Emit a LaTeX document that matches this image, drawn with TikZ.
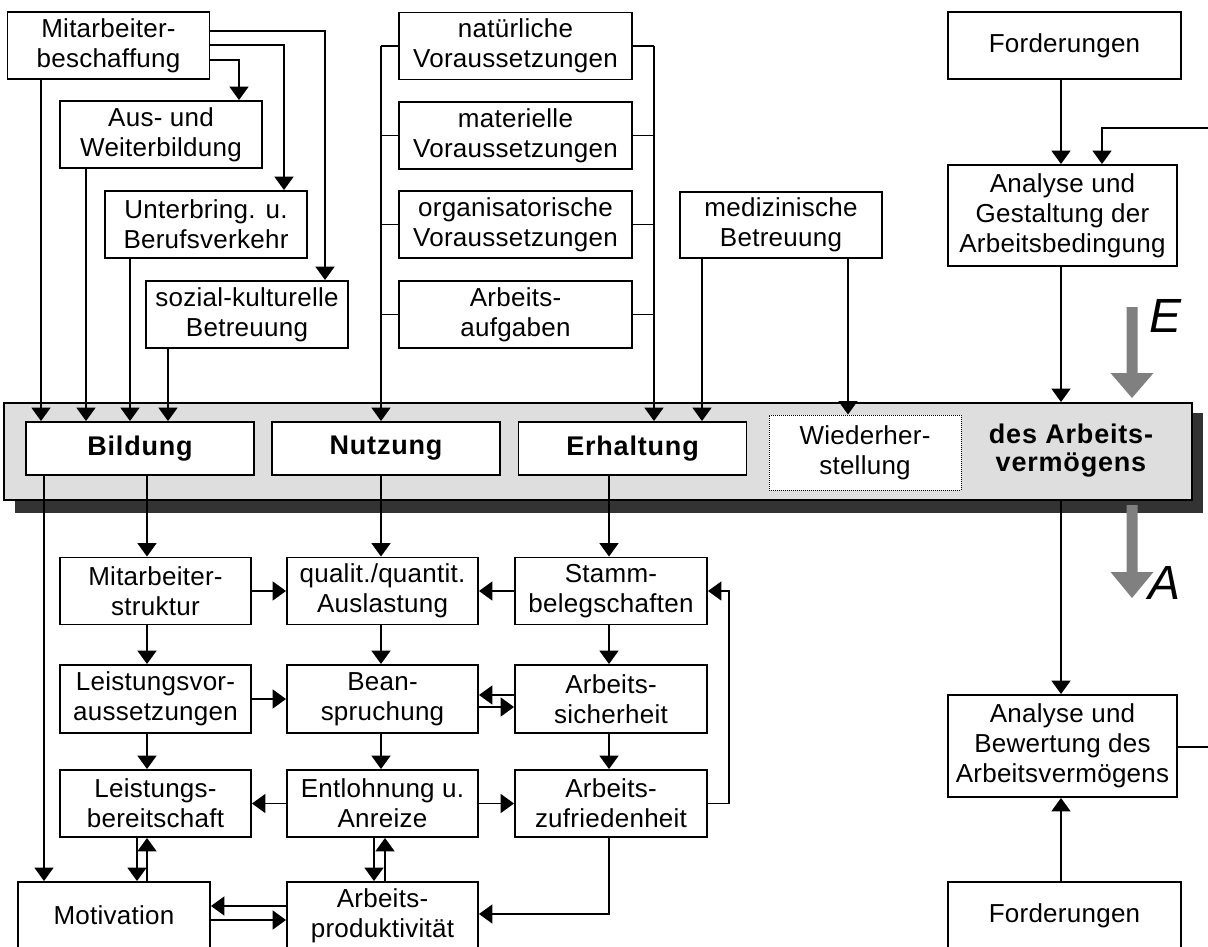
\documentclass[tikz,border=0pt]{standalone}
\usepackage{fontspec}
\setmainfont{Liberation Sans}[LetterSpace=1]
\newfontfamily\bandfont{Liberation Sans}[LetterSpace=3]
\newfontfamily\lblfont{Liberation Sans}
\usetikzlibrary{arrows.meta,calc}
\definecolor{bandgray}{HTML}{DEDEDE}
\definecolor{shadowgray}{HTML}{333333}
\definecolor{arrowgray}{HTML}{808080}
\begin{document}
\begin{tikzpicture}[x=1pt,y=-1pt,
  every node/.style={font=\fontsize{26}{30}\selectfont},
  box/.style={draw, line width=1.9pt, fill=white, align=center, inner sep=0pt},
  bA/.style={box, minimum width=202pt, minimum height=67pt},
  bB/.style={box, minimum width=233pt, minimum height=67pt},
  bC/.style={box, minimum width=229pt, minimum height=101pt},
  bG/.style={box, minimum width=191pt, minimum height=67pt},
  bandbox/.style={box, font=\fontsize{27}{28}\bandfont\bfseries, minimum width=228pt, minimum height=53pt},
  conn/.style={line width=1.9pt},
  arr/.style={conn, -{Triangle[width=19pt,length=13.5pt]}},
  bigarrow/.style={fill=arrowgray, draw=none},
  biglabel/.style={font=\fontsize{48}{50}\lblfont\itshape, inner sep=0pt}
]
\useasboundingbox (0,0) rectangle (1208,947);
\clip (0,0) rectangle (1208,947);

% band with shadow
\fill[shadowgray] (15,413) rectangle (1203,513);
\node[draw, line width=1.9pt, fill=bandgray, inner sep=0pt, minimum width=1188pt, minimum height=97pt] (band) at (598,451.5) {};

\node[bandbox] (bild) at (140,448.5) {Bildung};
\node[bandbox] (nutz) at (386,448.5) {Nutzung};
\node[bandbox] (erh) at (632.5,448.5) {Erhaltung};
\node[box, line width=1pt, dash pattern=on 1pt off 1pt, minimum width=192pt, minimum height=75pt] (wied) at (865,452.5) {Wiederher-\\stellung};
\node[align=center, inner sep=0pt, font=\fontsize{27}{28}\bandfont\bfseries] (desav) at (1071,451) {des Arbeits-\\vermögens};

% top-left group
\node[bA] (mb) at (108.5,45.5) {Mitarbeiter-\\beschaffung};
\node[bA] (aw) at (161,134.5) {Aus- und\\Weiterbildung};
\node[bA] (ub) at (206,224.5) {Unterbring. u.\\Berufsverkehr};
\node[bA] (sk) at (247,314.5) {sozial-kulturelle\\Betreuung};

% middle group
\node[bB] (nv) at (515.5,46) {natürliche\\Voraussetzungen};
\node[bB] (mv) at (515.5,135.5) {materielle\\Voraussetzungen};
\node[bB] (ov) at (515.5,224.5) {organisatorische\\Voraussetzungen};
\node[bB] (aa) at (515.5,314.5) {Arbeits-\\aufgaben};
\node[bA, minimum height=66pt] (med) at (781,225) {medizinische\\Betreuung};

% right column
\node[bB] (ford1) at (1064.5,45.5) {Forderungen};
\node[bC] (agA) at (1062.5,215.5) {Analyse und\\Gestaltung der\\Arbeitsbedingung};
\node[bC, minimum height=102pt] (abA) at (1062.5,746) {Analyse und\\Bewertung des\\Arbeitsvermögens};
\node[bB] (ford2) at (1064.5,915.5) {Forderungen};

% bottom grid
\node[bG] (ms) at (155.5,591) {Mitarbeiter-\\struktur};
\node[bG] (qa) at (382.5,591) {qualit./quantit.\\Auslastung};
\node[bG, minimum width=192pt] (st) at (611,591) {Stamm-\\belegschaften};
\node[bG, minimum height=68pt] (lv) at (155.5,699) {Leistungsvor-\\aussetzungen};
\node[bG, minimum height=68pt] (be) at (382.5,699) {Bean-\\spruchung};
\node[bG, minimum width=192pt, minimum height=68pt] (asi) at (611,699) {Arbeits-\\sicherheit};
\node[bG] (lb) at (155.5,803.5) {Leistungs-\\bereitschaft};
\node[bG] (ea) at (382.5,803.5) {Entlohnung u.\\Anreize};
\node[bG, minimum width=192pt] (az) at (611,803.5) {Arbeits-\\zufriedenheit};
\node[bG, minimum width=192pt] (mot) at (114,915.5) {Motivation};
\node[bG] (ap) at (382.5,915.5) {Arbeits-\\produktivität};

% big gray arrows E and A
\fill[bigarrow] (1126.5,307) -- (1137.5,307) -- (1137.5,373) -- (1153.5,373) -- (1132,398) -- (1110.5,373) -- (1126.5,373) -- cycle;
\node[biglabel] (lE) at (1165,316) {E};
\fill[bigarrow] (1126.5,505) -- (1137.5,505) -- (1137.5,572) -- (1153.5,572) -- (1132,598) -- (1110.5,572) -- (1126.5,572) -- cycle;
\node[biglabel] (lA) at (1164,583) {A};

% connectors top-left
\draw[arr] (mb.east |- 0,31) -| (sk.north -| 325,0);
\draw[arr] (mb.east |- 0,45) -| (ub.north -| 284,0);
\draw[arr] (mb.east |- 0,60) -| (aw.north -| 239,0);
\draw[arr] (mb.south -| 41,0) -- (bild.north -| 41,0);
\draw[arr] (aw.south -| 86,0) -- (bild.north -| 86,0);
\draw[arr] (ub.south -| 130,0) -- (bild.north -| 130,0);
\draw[arr] (sk.south -| 168,0) -- (bild.north -| 168,0);

% middle bracket
\foreach \n in {nv,mv,ov,aa}{
  \draw[conn] (\n.west) -- (\n.west -| 381,0);
  \draw[conn] (\n.east) -- (\n.east -| 654,0);
}
\draw[arr] (nv.west -| 381,0) -- (nutz.north -| 381,0);
\draw[arr] (nv.east -| 654,0) -- (erh.north -| 654,0);
\draw[arr] (med.south -| 702,0) -- (erh.north -| 702,0);
\draw[arr] (med.south -| 848,0) -- (wied.north -| 848,0);

% right column
\draw[arr] (ford1.south -| 1061,0) -- (agA.north -| 1061,0);
\draw[arr] (agA.south -| 1061,0) -- (band.north -| 1061,0);
\draw[arr] (band.south -| 1061,0) -- (abA.north -| 1061,0);
\draw[arr] (ford2.north -| 1061,0) -- (abA.south -| 1061,0);
\coordinate (fbLow) at (1230,747);
\coordinate (fbHigh) at (1230,128);
\draw[arr] (abA.east |- fbLow) -- (fbLow) -- (fbHigh) -| (agA.north -| 1102,0);

% bottom grid connectors
\draw[arr] (bild.south -| 147,0) -- (ms.north -| 147,0);
\draw[arr] (bild.south -| 44,0) -- (mot.north -| 44,0);
\draw[arr] (nutz.south -| 381,0) -- (qa.north -| 381,0);
\draw[arr] (erh.south -| 609,0) -- (st.north -| 609,0);
\draw[arr] (ms.south -| 147,0) -- (lv.north -| 147,0);
\draw[arr] (lv.south -| 147,0) -- (lb.north -| 147,0);
\draw[arr] (qa.south -| 381,0) -- (be.north -| 381,0);
\draw[arr] (be.south -| 381,0) -- (ea.north -| 381,0);
\draw[arr] (st.south -| 609,0) -- (asi.north -| 609,0);
\draw[arr] (asi.south -| 609,0) -- (az.north -| 609,0);
\draw[arr] (ms.east) -- (qa.west);
\draw[arr] (st.west) -- (qa.east);
\draw[arr] (lv.east) -- (be.west);
\draw[arr] (asi.west |- 0,695) -- (be.east |- 0,695);
\draw[arr] (be.east |- 0,707) -- (asi.west |- 0,707);
\draw[arr] (ea.west) -- (lb.east);
\draw[arr] (ea.east) -- (az.west);
\draw[arr] (az.east) -- (az.east -| 729,0) |- (st.east);
\draw[arr] (lb.south -| 137,0) -- (mot.north -| 137,0);
\draw[arr] (mot.north -| 147,0) -- (lb.south -| 147,0);
\draw[arr] (ea.south -| 374,0) -- (ap.north -| 374,0);
\draw[arr] (ap.north -| 385,0) -- (ea.south -| 385,0);
\draw[arr] (ap.west |- 0,906) -- (mot.east |- 0,906);
\draw[arr] (mot.east |- 0,920) -- (ap.west |- 0,920);
\draw[arr] (az.south -| 609,0) |- (ap.east |- 0,914);
\end{tikzpicture}
\end{document}
